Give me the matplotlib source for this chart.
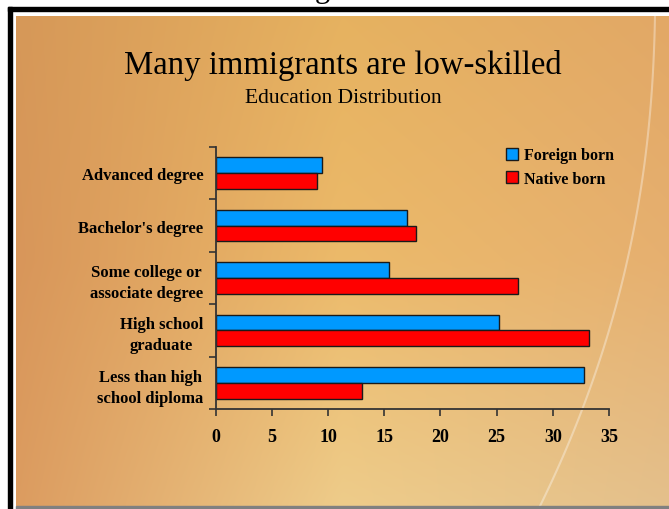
import numpy as np
import matplotlib
matplotlib.use("Agg")
import matplotlib.pyplot as plt
from matplotlib.patches import Patch, Rectangle

# ---- data ----
categories = ["Less than high\nschool diploma", "High school\ngraduate",
              "Some college or\nassociate degree", "Bachelor's degree", "Advanced degree"]
foreign_born = [32.8, 25.2, 15.4, 17.0, 9.5]
native_born = [13.0, 33.2, 26.9, 17.8, 9.0]
x_ticks = [0, 5, 10, 15, 20, 25, 30, 35]
title = "Many immigrants are low-skilled"
subtitle = "Education Distribution"
series_names = ["Foreign born", "Native born"]

W, H = 669, 510
fig = plt.figure(figsize=(W / 100, H / 100), dpi=100)
fig.patch.set_facecolor("white")

serif = ["Liberation Serif", "DejaVu Serif"]

# ---- background (pixel coordinates) ----
bg = fig.add_axes([0, 0, 1, 1], zorder=-10)
bg.set_xlim(0, W)
bg.set_ylim(H, 0)
bg.axis("off")

grid = np.array([
    [[214, 152, 88], [230, 178, 96], [226, 168, 102]],
    [[216, 150, 90], [236, 186, 106], [230, 176, 112]],
    [[220, 156, 96], [238, 204, 138], [228, 192, 140]],
], dtype=float) / 255.0
ny, nx = 200, 260
yy = np.linspace(0, 2, ny)[:, None]
xx = np.linspace(0, 2, nx)[None, :]
iy = np.clip(np.floor(yy).astype(int), 0, 1)
ix = np.clip(np.floor(xx).astype(int), 0, 1)
fy = (yy - iy)[..., None]
fx = (xx - ix)[..., None]
IY = np.broadcast_to(iy, (ny, nx))
IX = np.broadcast_to(ix, (ny, nx))
c00 = grid[IY, IX]
c01 = grid[IY, IX + 1]
c10 = grid[IY + 1, IX]
c11 = grid[IY + 1, IX + 1]
img = (c00 * (1 - fx) * (1 - fy) + c01 * fx * (1 - fy) + c10 * (1 - fx) * fy + c11 * fx * fy)
bg.imshow(img, extent=(16, W, 507, 17), aspect="auto", interpolation="bilinear", zorder=0)

# faint light streak on the right
t = np.linspace(0, 1, 100)
sx = 655 - 10 * t - 105 * t ** 2.2
sy = 17 + 490 * t
bg.plot(sx, sy, color="white", alpha=0.35, lw=1.5, zorder=1)

# frame
bg.add_patch(Rectangle((8, 8), W, 3.5, color="black", zorder=2))
bg.add_patch(Rectangle((8, 8), 3.5, H, color="black", zorder=2))
bg.add_patch(Rectangle((16, 507), W, 3, color="#808080", zorder=2))

# partially cut heading glyph at the very top
fig.text(322 / W, 1 + 3 / H, "g", family=serif, fontsize=22, ha="center", va="baseline")

# ---- chart ----
x0, x1 = 215.7, 609.0
ytop, ybot = 148.0, 410.0
ax = fig.add_axes([x0 / W, 1 - ybot / H, (x1 - x0) / W, (ybot - ytop) / H])
ax.patch.set_alpha(0)

y = np.arange(len(categories))
h = 0.3
ax.barh(y + h / 2, foreign_born, height=h, color="#0099FF", edgecolor="#1a1a1a", linewidth=1.0,
        label=series_names[0])
ax.barh(y - h / 2, native_born, height=h, color="#FF0000", edgecolor="#1a1a1a", linewidth=1.0,
        label=series_names[1])

ax.set_xlim(0, 35)
ax.set_ylim(-0.5, len(categories) - 0.5)
ax.set_xticks(x_ticks)
ax.set_xticklabels([str(v) for v in x_ticks], family=serif, fontweight="bold", fontsize=13)
ax.set_yticks(np.arange(-0.5, len(categories), 1.0))
ax.set_yticklabels([])
ax.set_yticks(y, minor=True)
ax.set_yticklabels(categories, minor=True, family=serif, fontweight="bold", fontsize=12,
                   multialignment="center", linespacing=1.4)
ax.tick_params(axis="y", which="minor", length=0, pad=9)
ax.tick_params(axis="y", which="major", length=5, width=1.2, color="#333333", direction="out")
ax.tick_params(axis="x", length=5, width=1.2, color="#333333", direction="out", pad=9)

for s in ["top", "right"]:
    ax.spines[s].set_visible(False)
for s in ["left", "bottom"]:
    ax.spines[s].set_color("#333333")
    ax.spines[s].set_linewidth(1.3)

handles = [Patch(facecolor="#0099FF", edgecolor="#1a1a1a", linewidth=1.0),
           Patch(facecolor="#FF0000", edgecolor="#1a1a1a", linewidth=1.0)]
leg = fig.legend(handles, series_names, loc="upper left",
                 bbox_to_anchor=(506 / W, 1 - 148.5 / H), bbox_transform=fig.transFigure,
                 frameon=False, handlelength=0.75, handleheight=0.75, handletextpad=0.35,
                 labelspacing=0.45, borderpad=0, borderaxespad=0,
                 prop={"family": serif, "weight": "bold", "size": 11.5})

# titles
fig.text(343 / W, 1 - 74 / H, title, family=serif, fontsize=23.6, ha="center", va="baseline")
fig.text(343 / W, 1 - 103 / H, subtitle, family=serif, fontsize=15.5, ha="center", va="baseline")

fig.savefig("out.png", dpi=100)
